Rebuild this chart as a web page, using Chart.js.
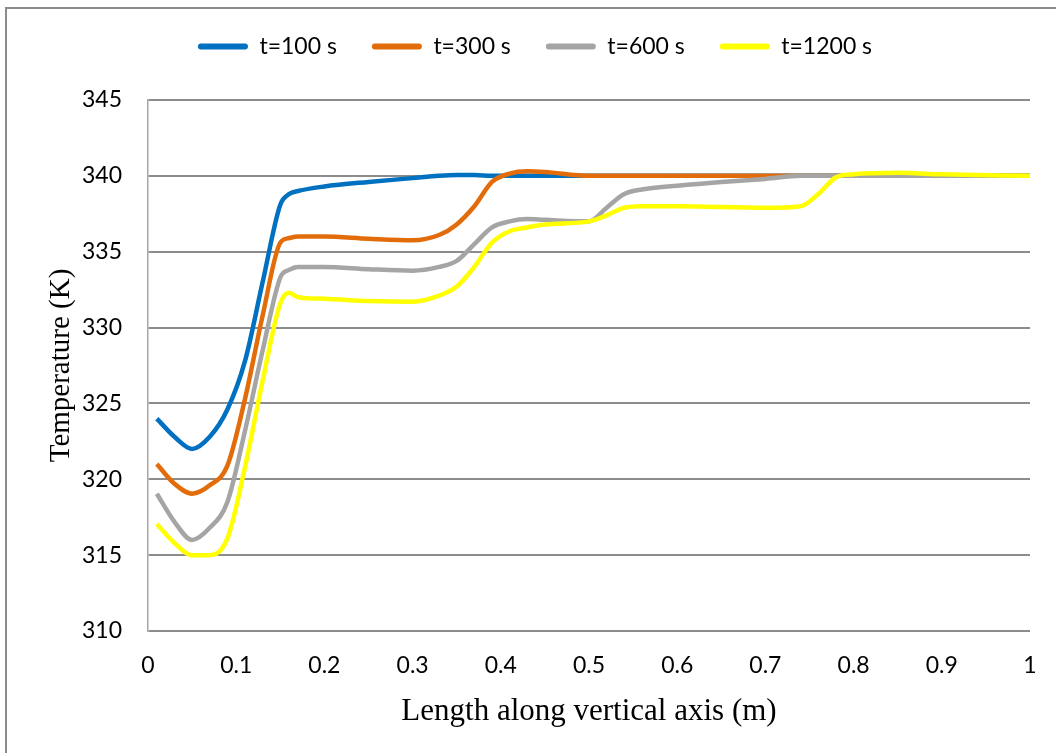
<!DOCTYPE html>
<html>
<head>
<meta charset="utf-8">
<script src="https://cdn.jsdelivr.net/npm/chart.js@4.4.1/dist/chart.umd.min.js"></script>
<style>
  html, body { margin: 0; padding: 0; background: #fff; }
  #wrap { position: relative; width: 1056px; height: 753px; overflow: hidden; }
  #frame { position: absolute; left: 5px; top: 7px; width: 1100px; height: 800px;
           border-left: 2px solid #8c8c8c; border-top: 2px solid #8c8c8c; }
  canvas { position: absolute; left: 0; top: 0; }
</style>
</head>
<body>
<div id="wrap">
  <div id="frame"></div>
  <canvas id="tempChart" width="1056" height="753"></canvas>
</div>
<script>
// Положение по вертикальной оси (м)
const lengthPos = [0.01, 0.03, 0.05, 0.07, 0.09, 0.11, 0.13, 0.15, 0.16, 0.17,
                   0.2, 0.25, 0.3, 0.33, 0.35, 0.37, 0.39, 0.41, 0.43, 0.45,
                   0.5, 0.52, 0.54, 0.56, 0.6, 0.65, 0.7, 0.74, 0.76, 0.78,
                   0.8, 0.85, 0.9, 1.0];

// Температура (K) для каждого момента времени
const temp100 = [324.0, 322.8, 322.0, 322.8, 324.6, 327.8, 333.0, 338.1, 338.8, 339.0,
                 339.3, 339.6, 339.85, 340.0, 340.05, 340.05, 340.0, 340.0, 340.0, 340.0,
                 340, 340, 340, 340, 340, 340, 340, 340, 340, 340,
                 340, 340, 340, 340];
const temp300 = [321.0, 319.7, 319.05, 319.6, 320.9, 325.3, 330.8, 335.6, 335.9, 336.0,
                 336.0, 335.85, 335.75, 336.1, 336.8, 338.0, 339.6, 340.15, 340.3, 340.25,
                 340.0, 340, 340, 340, 340, 340, 340, 340, 340, 340,
                 340, 340, 340, 340];
const temp600 = [319.05, 317.2, 316.0, 316.8, 318.5, 323.2, 328.5, 333.3, 333.8, 334.0,
                 334.0, 333.85, 333.75, 334.0, 334.4, 335.5, 336.6, 337.0, 337.15, 337.1,
                 337.0, 337.9, 338.8, 339.1, 339.35, 339.6, 339.8, 340.0, 340.0, 340,
                 340, 340, 340, 340];
const temp1200 = [317.05, 315.8, 315.0, 315.0, 316.1, 320.8, 326.5, 331.6, 332.3, 332.0,
                  331.9, 331.75, 331.7, 332.1, 332.7, 334.0, 335.6, 336.35, 336.6, 336.8,
                  337.0, 337.4, 337.9, 338.0, 338.0, 337.95, 337.9, 338.0, 338.8, 339.9,
                  340.1, 340.2, 340.1, 340.0];

const seriesNames = ['t=100 s', 't=300 s', 't=600 s', 't=1200 s'];
const seriesColors = ['#0070C0', '#E36C0A', '#A5A5A5', '#FFFF00'];
const xTicks = [0, 0.1, 0.2, 0.3, 0.4, 0.5, 0.6, 0.7, 0.8, 0.9, 1];
const yTicks = [310, 315, 320, 325, 330, 335, 340, 345];

// последняя серия рисуется поверх, как в Excel
function makeDataset(name, values, color, order) {
    return {
        label: name,
        data: lengthPos.map((x, i) => ({ x: x, y: values[i] })),
        borderColor: color,
        backgroundColor: color,
        borderWidth: 4.5,
        pointRadius: 0,
        fill: false,
        order: order,
        cubicInterpolationMode: 'monotone'
    };
}

const ctx = document.getElementById('tempChart').getContext('2d');

new Chart(ctx, {
    type: 'line',
    data: {
        datasets: [
            makeDataset(seriesNames[0], temp100, seriesColors[0], 4),
            makeDataset(seriesNames[1], temp300, seriesColors[1], 3),
            makeDataset(seriesNames[2], temp600, seriesColors[2], 2),
            makeDataset(seriesNames[3], temp1200, seriesColors[3], 1)
        ]
    },
    options: {
        responsive: false,
        animation: false,
        layout: {
            padding: { top: 0, left: 40, right: 26, bottom: 10 }
        },
        plugins: {
            legend: {
                position: 'top',
                labels: {
                    boxWidth: 50,
                    boxHeight: 6,
                    padding: 35,
                    color: '#000',
                    font: { family: 'Lato', size: 23 },
                    sort: (a, b) => a.datasetIndex - b.datasetIndex,
                    generateLabels: function(chart) {
                        const items = Chart.defaults.plugins.legend.labels.generateLabels(chart);
                        return items.map(item => Object.assign(item, {
                            lineWidth: 0,
                            fillStyle: item.strokeStyle,
                            borderRadius: 3
                        }));
                    }
                }
            },
            // пустой заголовок как отступ между легендой и графиком
            title: {
                display: true,
                text: '',
                weight: 500,
                font: { size: 1, lineHeight: 1 },
                padding: { top: 16, bottom: 15 }
            },
            tooltip: { enabled: false }
        },
        scales: {
            x: {
                type: 'linear',
                min: 0,
                max: 1,
                afterBuildTicks: function(scale) {
                    scale.ticks = xTicks.map(v => ({ value: v }));
                },
                afterFit: function(scale) {
                    scale.height = 112;
                },
                grid: { display: false },
                border: { display: false },
                ticks: {
                    padding: 13,
                    color: '#000',
                    font: { family: 'Lato', size: 23 },
                    callback: v => String(v)
                },
                title: {
                    display: true,
                    text: 'Length along vertical axis (m)',
                    color: '#000',
                    font: { family: 'Liberation Serif', size: 31 },
                    padding: { top: 0, bottom: 13 }
                }
            },
            y: {
                min: 310,
                max: 345,
                afterBuildTicks: function(scale) {
                    scale.ticks = yTicks.map(v => ({ value: v }));
                },
                afterFit: function(scale) {
                    scale.width = 108;
                },
                grid: {
                    color: '#8c8c8c',
                    lineWidth: 2,
                    drawTicks: false
                },
                border: {
                    color: '#a6a6a6',
                    width: 1.5
                },
                ticks: {
                    padding: 26,
                    color: '#000',
                    font: { family: 'Lato', size: 23 }
                },
                title: {
                    display: true,
                    text: 'Temperature (K)',
                    color: '#000',
                    font: { family: 'Liberation Serif', size: 29 },
                    padding: { top: 4, bottom: 0 }
                }
            }
        }
    }
});
</script>
</body>
</html>
